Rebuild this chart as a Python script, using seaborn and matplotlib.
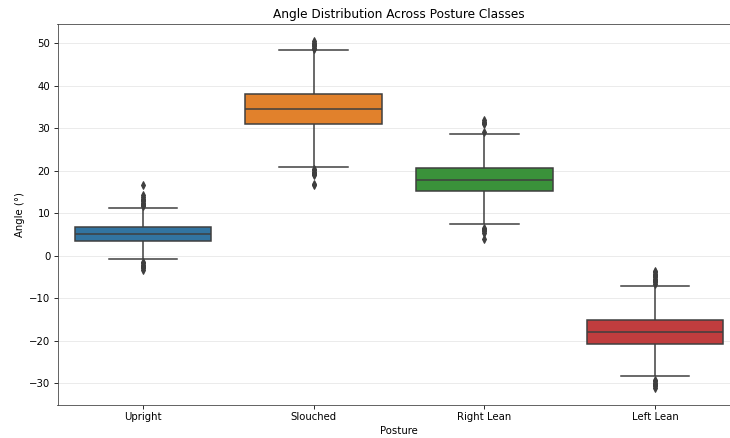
import numpy as np
import pandas as pd
import matplotlib
matplotlib.use("Agg")
import matplotlib.pyplot as plt
import seaborn as sns

# Categories and box statistics
postures = ["Upright", "Slouched", "Right Lean", "Left Lean"]
colors = ["#3274a1", "#e1812c", "#3a923a", "#c03d3e"]

q1_vals = [3.5, 31.1, 15.2, -20.8]
median_vals = [5.1, 34.6, 17.9, -17.9]
q3_vals = [6.7, 38.1, 20.7, -15.2]
whisker_low = [-0.9, 20.9, 7.4, -28.4]
whisker_high = [11.2, 48.5, 28.7, -7.1]

outliers_low = [
    [-3.3, -3.0, -2.7, -2.4, -2.1, -1.8, -1.5],
    [16.6, 16.9, 18.9, 19.2, 19.5, 19.8, 20.1, 20.4],
    [3.9, 5.4, 5.7, 6.0, 6.3, 6.6],
    [-31.1, -30.8, -30.5, -30.2, -29.9, -29.6, -29.3],
]
outliers_high = [
    [11.6, 11.9, 12.2, 12.5, 12.8, 13.1, 13.4, 13.8, 14.2, 16.6],
    [48.7, 49.0, 49.3, 49.6, 49.9, 50.2, 50.5],
    [29.1, 31.0, 31.3, 31.6, 31.9],
    [-6.6, -6.3, -6.0, -5.7, -5.4, -5.1, -4.8, -4.5, -4.2, -3.9, -3.7],
]


def build_sample(lo, wlo, q1, med, q3, whi, hi):
    """Sorted sample whose quartiles, whiskers and fliers equal the given stats."""
    k = max(len(lo), len(hi)) + 2
    vals = list(lo) + [wlo] + [q1] * (k - len(lo))
    vals += [med] * k
    vals += [q3] * k
    vals += [q3] * (k - 1 - len(hi)) + [whi] + list(hi)
    return vals


rows = []
for i, name in enumerate(postures):
    sample = build_sample(outliers_low[i], whisker_low[i], q1_vals[i],
                          median_vals[i], q3_vals[i], whisker_high[i],
                          outliers_high[i])
    rows += [(name, v) for v in sample]
df = pd.DataFrame(rows, columns=["Posture", "Angle"])

fig = plt.figure(figsize=(10, 6), dpi=73)
ax = fig.add_axes([57.5 / 730, 1 - 405 / 438, 683 / 730, (405 - 24) / 438])
line_gray = "#3f3f3f"
sns.boxplot(
    data=df, x="Posture", y="Angle", hue="Posture", order=postures,
    hue_order=postures, palette=colors, saturation=1, legend=False,
    width=0.8, linecolor=line_gray, linewidth=1.5, fliersize=5,
    flierprops=dict(marker="d", markerfacecolor=line_gray,
                    markeredgecolor=line_gray),
    ax=ax,
)
ax.set_title("Angle Distribution Across Posture Classes", fontsize=12)
ax.set_xlabel("Posture")
ax.set_ylabel("Angle (°)")
ax.grid(axis="y", alpha=0.3)
ax.set_axisbelow(True)
for s in ax.spines.values():
    s.set_color("#444444")
fig.savefig("out.png", dpi=73)
